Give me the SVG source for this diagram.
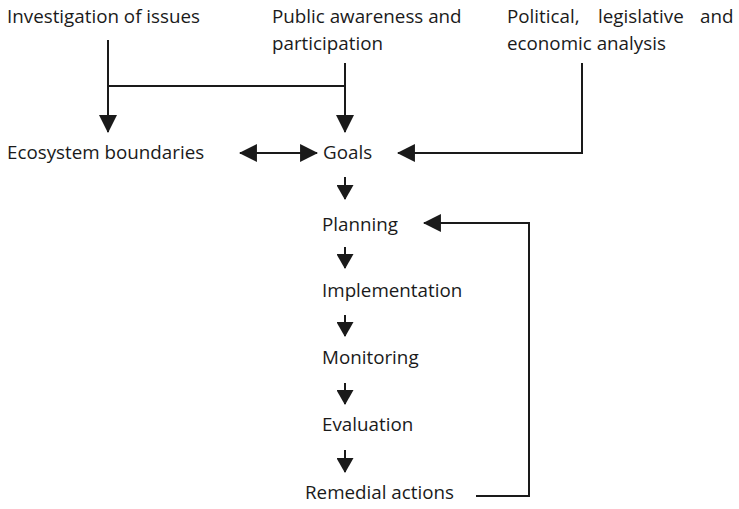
<svg xmlns="http://www.w3.org/2000/svg" width="739" height="509" viewBox="0 0 739 509">
  <style>
    text { font-family: "Open Sans", "Noto Sans", sans-serif; font-size: 18.8px; fill: #1a1a1a; }
    .wire { fill: none; stroke: #1a1a1a; stroke-width: 2; }
  </style>
  <defs>
    <marker id="head" markerUnits="userSpaceOnUse" markerWidth="18" markerHeight="18" viewBox="0 0 17 17" refX="16" refY="8.5" orient="auto-start-reverse">
      <path d="M0,0 L17,8.5 L0,17 z" fill="#1a1a1a"/>
    </marker>
    <marker id="step" markerUnits="userSpaceOnUse" markerWidth="16" markerHeight="17" viewBox="0 0 15 17" refX="14" refY="8.5" orient="auto">
      <path d="M0,0 L15,8.5 L0,17 z" fill="#1a1a1a"/>
    </marker>
  </defs>

  <rect width="739" height="509" fill="#ffffff"/>

  <g id="connectors">
    <!-- inputs from the top row -->
    <path class="wire" d="M108,40 V132" marker-end="url(#head)"/>
    <path class="wire" d="M108,86 H345"/>
    <path class="wire" d="M345,63 V132" marker-end="url(#head)"/>
    <path class="wire" d="M582,63 V153 H398" marker-end="url(#head)"/>
    <!-- ecosystem boundaries <-> goals -->
    <path class="wire" d="M240,153 H317" marker-start="url(#head)" marker-end="url(#head)"/>
    <!-- main sequence -->
    <path class="wire" d="M345,177 V199" marker-end="url(#step)"/>
    <path class="wire" d="M345,247 V268" marker-end="url(#step)"/>
    <path class="wire" d="M345,315 V336" marker-end="url(#step)"/>
    <path class="wire" d="M345,383 V404" marker-end="url(#step)"/>
    <path class="wire" d="M345,450 V472" marker-end="url(#step)"/>
    <!-- feedback loop -->
    <path class="wire" d="M476,496 H529 V223 H424" marker-end="url(#head)"/>
  </g>

  <g id="investigation"><text x="7" y="23">Investigation of issues</text></g>
  <g id="public">
    <text x="272" y="23">Public awareness and</text>
    <text x="272" y="50">participation</text>
  </g>
  <g id="political">
    <text y="23"><tspan x="507">Political,</tspan><tspan x="598">legislative</tspan><tspan x="700">and</tspan></text>
    <text x="507" y="50">economic analysis</text>
  </g>
  <g id="ecosystem"><text x="7" y="159">Ecosystem boundaries</text></g>
  <g id="goals"><text x="323" y="159">Goals</text></g>
  <g id="planning"><text x="322" y="231">Planning</text></g>
  <g id="implementation"><text x="322" y="297">Implementation</text></g>
  <g id="monitoring"><text x="322" y="364">Monitoring</text></g>
  <g id="evaluation"><text x="322" y="431">Evaluation</text></g>
  <g id="remedial"><text x="305" y="499">Remedial actions</text></g>
</svg>
